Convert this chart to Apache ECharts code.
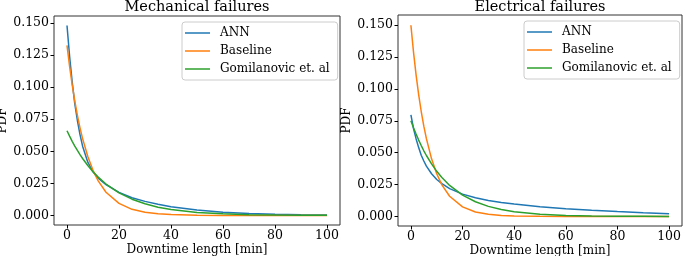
<!DOCTYPE html>
<html>
<head>
<meta charset="utf-8">
<script src="https://cdn.jsdelivr.net/npm/echarts@6/dist/echarts.min.js"></script>
<style>
  html, body { margin: 0; padding: 0; background: #fff; }
  #chart { width: 685px; height: 256px; }
</style>
</head>
<body>
<div id="chart"></div>
<script>
// downtime length [min] where the curves were read
var xs = [0, 1, 2, 3, 4, 5, 6, 8, 10, 12, 15, 20, 25, 30, 35, 40, 50, 60, 70, 80, 90, 100];

// mechanical failures
var mechAnn = [0.148, 0.124, 0.104, 0.087, 0.074, 0.063, 0.054, 0.0415, 0.034, 0.029, 0.024, 0.018, 0.0138, 0.011, 0.0088, 0.0068, 0.0042, 0.0026, 0.0016, 0.001, 0.0006, 0.0004];
var mechBase = [0.1325, 0.1161, 0.1017, 0.0891, 0.078, 0.0683, 0.0599, 0.0459, 0.0352, 0.027, 0.0181, 0.0094, 0.0048, 0.0025, 0.0013, 0.0007, 0.0002, 0.00005, 0.00001, 0, 0, 0];
var mechGomi = [0.066, 0.0618, 0.0578, 0.0541, 0.0507, 0.0474, 0.0444, 0.0389, 0.0341, 0.0299, 0.0245, 0.0176, 0.0127, 0.0091, 0.0065, 0.0047, 0.0024, 0.0013, 0.0006, 0.0003, 0.0002, 0.0001];

// electrical failures
var elecAnn = [0.0796, 0.069, 0.061, 0.054, 0.048, 0.0435, 0.0395, 0.0335, 0.029, 0.0258, 0.0218, 0.0175, 0.0146, 0.0125, 0.011, 0.0097, 0.0076, 0.006, 0.0048, 0.0038, 0.0029, 0.0022];
var elecBase = [0.150, 0.1291, 0.1111, 0.0956, 0.0823, 0.0708, 0.061, 0.0452, 0.0335, 0.0248, 0.0158, 0.0075, 0.0035, 0.0017, 0.0008, 0.0004, 0.0001, 0, 0, 0, 0, 0];
var elecGomi = [0.075, 0.0696, 0.0646, 0.0599, 0.0556, 0.0515, 0.0478, 0.0412, 0.0354, 0.0305, 0.0243, 0.0167, 0.0115, 0.0079, 0.0054, 0.0037, 0.0018, 0.0008, 0.0004, 0.0002, 0.0001, 0];

var seriesNames = ['ANN', 'Baseline', 'Gomilanovic et. al'];
var panelTitles = ['Mechanical failures', 'Electrical failures'];
var xTicks = [0, 20, 40, 60, 80, 100];
var yTicks = [0, 0.025, 0.05, 0.075, 0.1, 0.125, 0.15];

var colors = ['#1f77b4', '#ff7f0e', '#2ca02c'];
var serif = '"DejaVu Serif", serif';

function pairs(vals) {
  return xs.map(function (x, i) { return [x, vals[i]]; });
}

var chart = echarts.init(document.getElementById('chart'));

var grids = [
  { left: 54, top: 16, width: 286, height: 209 },
  { left: 398, top: 15, width: 284, height: 211 }
];

var tickText = { fontFamily: serif, fontSize: 12.5, color: '#000' };

function xAxisFor(i) {
  return {
    type: 'value', gridIndex: i, min: -5, max: 105,
    name: 'Downtime length [min]', nameLocation: 'middle', nameGap: 19, nameMoveOverlap: false,
    nameTextStyle: { fontFamily: serif, fontSize: 12, color: '#000' },
    splitLine: { show: false },
    axisLine: { show: false, onZero: false },
    axisTick: { show: true, length: 3.5, lineStyle: { color: '#000' }, customValues: xTicks },
    axisLabel: Object.assign({ customValues: xTicks, margin: 4 }, tickText)
  };
}

function yAxisFor(i, min, max) {
  return {
    type: 'value', gridIndex: i, min: min, max: max,
    name: 'PDF', nameLocation: 'middle', nameGap: 43,
    nameTextStyle: { fontFamily: serif, fontSize: 12, color: '#000' },
    splitLine: { show: false },
    axisLine: { show: false, onZero: false },
    axisTick: { show: true, length: 3.5, lineStyle: { color: '#000' }, customValues: yTicks },
    axisLabel: Object.assign({
      customValues: yTicks, margin: 5,
      formatter: function (v) { return v.toFixed(3); }
    }, tickText)
  };
}

function lineSeries(name, vals, idx, color) {
  return {
    name: name, type: 'line', xAxisIndex: idx, yAxisIndex: idx,
    data: pairs(vals), symbol: 'none', showSymbol: false, smooth: false,
    lineStyle: { color: color, width: 1.5 }, itemStyle: { color: color },
    animation: false
  };
}

function legendFor(left, top) {
  return {
    data: seriesNames.map(function (n) { return { name: n, icon: 'rect' }; }),
    orient: 'vertical', left: left, top: top,
    itemWidth: 25, itemHeight: 1.5, itemGap: 4,
    backgroundColor: '#fff', borderColor: '#cccccc', borderWidth: 1, borderRadius: 3,
    padding: [4, 8, 4, 3],
    textStyle: { fontFamily: serif, fontSize: 12, color: '#000', lineHeight: 14, padding: [0, 0, 0, 5] }
  };
}

chart.setOption({
  animation: false,
  title: panelTitles.map(function (t, i) {
    return {
      text: t, left: grids[i].left + grids[i].width / 2, top: 0, textAlign: 'center', padding: 0,
      textStyle: { fontFamily: serif, fontSize: 14.5, fontWeight: 'normal', color: '#000' }
    };
  }),
  grid: grids.map(function (g) {
    return { left: g.left, top: g.top, width: g.width, height: g.height,
             outerBoundsMode: 'none', containLabel: false,
             show: true, borderColor: '#333', borderWidth: 1, backgroundColor: '#fff' };
  }),
  legend: [legendFor(182, 22), legendFor(524, 21)],
  xAxis: [xAxisFor(0), xAxisFor(1)],
  yAxis: [yAxisFor(0, -0.0074, 0.1554), yAxisFor(1, -0.0075, 0.158)],
  series: [
    lineSeries(seriesNames[0], mechAnn, 0, colors[0]),
    lineSeries(seriesNames[1], mechBase, 0, colors[1]),
    lineSeries(seriesNames[2], mechGomi, 0, colors[2]),
    lineSeries(seriesNames[0], elecAnn, 1, colors[0]),
    lineSeries(seriesNames[1], elecBase, 1, colors[1]),
    lineSeries(seriesNames[2], elecGomi, 1, colors[2])
  ]
});
</script>
</body>
</html>
